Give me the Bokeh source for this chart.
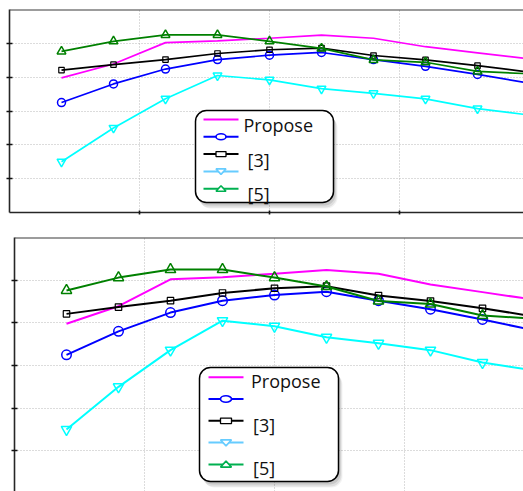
from bokeh.plotting import figure
from bokeh.models import (Range1d, LinearAxis, Grid, FixedTicker, Span, BoxAnnotation,
                          Label, CustomJSTickFormatter)
from bokeh.embed import file_html
from bokeh.resources import INLINE

# ---- data -------------------------------------------------------------
x_vals = [2, 4, 6, 8, 10, 12, 14, 16, 18, 20]
propose = [0.798, 0.839, 0.902, 0.907, 0.915, 0.924, 0.915, 0.890, 0.872, 0.854]
circle_series = [0.725, 0.780, 0.824, 0.852, 0.865, 0.873, 0.852, 0.832, 0.808, 0.782]
ref3 = [0.821, 0.837, 0.852, 0.870, 0.881, 0.886, 0.864, 0.851, 0.834, 0.815]
tri_down_series = [0.550, 0.650, 0.736, 0.805, 0.792, 0.766, 0.752, 0.736, 0.707, 0.688]
ref5 = [0.876, 0.906, 0.925, 0.925, 0.906, 0.885, 0.851, 0.844, 0.817, 0.810]

legend_labels = ["Propose", "", "[3]", "", "[5]"]
x_ticks = [5, 10, 15]
y_ticks = [0.5, 0.6, 0.7, 0.8, 0.9]

# ---- styles -----------------------------------------------------------
MAGENTA, BLUE, BLACK, CYAN, GREEN = "#ff00ff", "#0000ff", "#000000", "#00ffff", "#008000"
LEG_COLORS = ["#ff00ff", "#0000ff", "#000000", "#66ccff", "#00b050"]
FONT = "Open Sans"


def blank_axis(ticks, tick_len):
    return LinearAxis(
        ticker=FixedTicker(ticks=ticks, minor_ticks=[]),
        formatter=CustomJSTickFormatter(code="return ''"),
        major_label_text_font_size="1px", major_label_standoff=0,
        major_tick_in=tick_len, major_tick_out=tick_len,
        minor_tick_in=0, minor_tick_out=0,
        axis_line_color="#262626", axis_line_width=1.6,
        major_tick_line_color="#111111", major_tick_line_width=1.6,
    )


def panel(width, height, left, top, bottom, frame_img, x_end, y_start,
          lw, msize, show_xaxis, leg):
    fl, ft, fr, fb = frame_img
    p = figure(width=width, height=height,
               x_range=Range1d(0, x_end), y_range=Range1d(y_start, 1.0),
               x_axis_location=None, y_axis_location=None,
               toolbar_location=None, output_backend="svg",
               min_border_left=left, min_border_top=top,
               min_border_bottom=bottom, min_border_right=0)
    p.outline_line_color = None
    p.center = []
    p.background_fill_color = "white"
    p.border_fill_color = "white"

    for dim, ticks in ((0, x_ticks), (1, y_ticks)):
        p.add_layout(Grid(dimension=dim, ticker=FixedTicker(ticks=ticks, minor_ticks=[]),
                          grid_line_color="#b8b8b8", grid_line_width=1,
                          grid_line_dash="1 2"))

    p.add_layout(blank_axis(y_ticks, 3), "left")
    if show_xaxis:
        p.add_layout(blank_axis(x_ticks, 2), "below")
    p.add_layout(Span(location=1.0, dimension="width", line_color="#3a3a3a", line_width=2))

    # series
    p.line(x_vals, propose, color=MAGENTA, line_width=lw)
    p.line(x_vals, circle_series, color=BLUE, line_width=lw)
    p.scatter(x_vals, circle_series, marker="circle", size=msize, fill_color=None,
              line_color=BLUE, line_width=1.5)
    p.line(x_vals, ref3, color=BLACK, line_width=lw)
    p.scatter(x_vals, ref3, marker="square", size=msize * 0.68, fill_color=None,
              line_color=BLACK, line_width=1.2)
    p.line(x_vals, tri_down_series, color=CYAN, line_width=lw)
    p.scatter(x_vals, tri_down_series, marker="inverted_triangle", size=msize * 1.1,
              fill_color=None, line_color=CYAN, line_width=1.5)
    p.line(x_vals, ref5, color=GREEN, line_width=lw)
    p.scatter(x_vals, ref5, marker="triangle", size=msize * 1.1, fill_color=None,
              line_color=GREEN, line_width=1.5)

    # pixel-space ranges (page coordinates, y negated) for the legend
    p.extra_x_ranges = {"px": Range1d(fl, fr)}
    p.extra_y_ranges = {"px": Range1d(-fb, -ft)}
    kw = dict(x_range_name="px", y_range_name="px")

    bl, bt, br, bb = leg["box"]
    for dx, dy, a in ((2, 3, 0.10), (3, 5, 0.08), (4, 6, 0.05)):
        p.add_layout(BoxAnnotation(left=bl + dx, right=br + dx, top=-(bt + dy), bottom=-(bb + dy),
                                   fill_color="black", fill_alpha=a, line_color=None,
                                   border_radius=11, **kw))
    p.add_layout(BoxAnnotation(left=bl, right=br, top=-bt, bottom=-bb,
                               fill_color="white", fill_alpha=1.0, line_color="black",
                               line_alpha=1.0, line_width=1.5, border_radius=11, **kw))

    lx0, lx1 = leg["line_x"]
    cx = (lx0 + lx1) / 2
    rows = [leg["row0"] + i * leg["step"] for i in range(5)]
    p.segment(x0=[lx0] * 5, x1=[lx1] * 5, y0=[-r for r in rows], y1=[-r for r in rows],
              color=LEG_COLORS, line_width=2, level="overlay", **kw)
    mw, mh = leg["marker"]
    p.ellipse(x=[cx], y=[-rows[1]], width=mw, height=mh, fill_color="white",
              line_color=LEG_COLORS[1], line_width=1.6, level="overlay", **kw)
    p.rect(x=[cx], y=[-rows[2]], width=mw, height=mh - 1, fill_color="white",
           line_color=LEG_COLORS[2], line_width=1.3, level="overlay", **kw)
    r3 = rows[3]
    p.patch([cx - mw / 2, cx + mw / 2, cx], [-(r3 - mh / 2 + 0.5), -(r3 - mh / 2 + 0.5), -(r3 + mh / 2)],
            fill_color="white", line_color=LEG_COLORS[3], line_width=1.6, level="overlay", **kw)
    r4 = rows[4]
    p.patch([cx - mw / 2, cx + mw / 2, cx], [-(r4 + mh / 2 - 0.5), -(r4 + mh / 2 - 0.5), -(r4 - mh / 2)],
            fill_color="white", line_color=LEG_COLORS[4], line_width=1.6, level="overlay", **kw)

    for i, text in enumerate(legend_labels):
        if not text:
            continue
        tx = leg["text_x"][0] if i == 0 else leg["text_x"][1]
        p.add_layout(Label(x=tx, y=-(rows[i] + leg["base"]), text=text,
                           text_font=FONT, text_font_size="18px",
                           text_color="#111111", text_baseline="alphabetic",
                           level="overlay", **kw))
    return p


top_leg = dict(box=(195, 110, 333, 202), line_x=(203, 238), row0=119, step=17.3,
               marker=(10, 6), text_x=(243, 247), base=5.5)
bot_leg = dict(box=(199, 367, 338, 481), line_x=(208, 243), row0=376.7, step=21.8,
               marker=(11, 6.5), text_x=(250.5, 252.5), base=4)

p1 = panel(523, 230, 9, 9, 18, (9, 9, 523, 212), 514 / 26, 0.4, 1.7, 8, True, top_leg)
p2 = panel(523, 261, 14, 7, 0, (14, 237, 523, 491), 509 / 26, 1.0 - 254 / 426.7, 2.0, 9.5,
           False, bot_leg)

# two independent roots, stacked on the page
open("out.html", "w").write(file_html([p1, p2], INLINE))
